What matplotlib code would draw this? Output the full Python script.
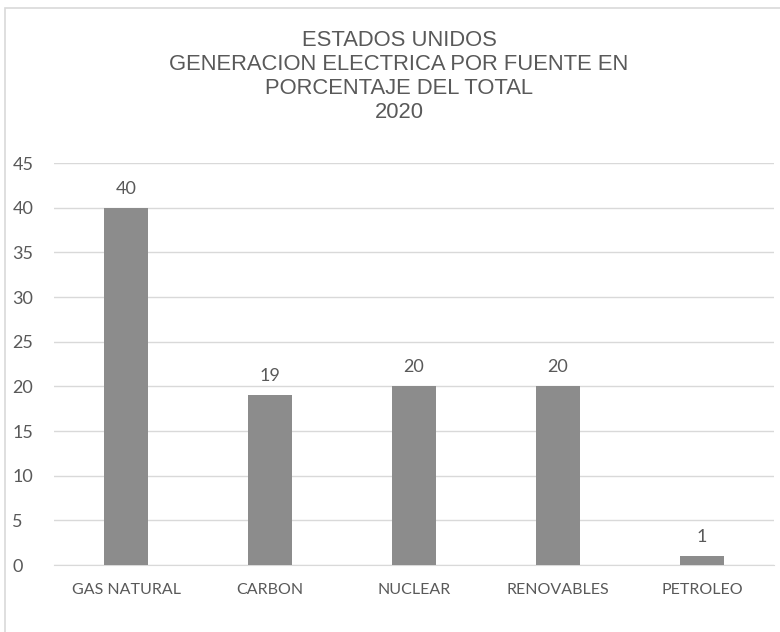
import matplotlib.pyplot as plt
from matplotlib.patches import Rectangle

# data
categories = ["GAS NATURAL", "CARBON", "NUCLEAR", "RENOVABLES", "PETROLEO"]
values = [40, 19, 20, 20, 1]
y_ticks = [0, 5, 10, 15, 20, 25, 30, 35, 40, 45]
title_lines = ["ESTADOS UNIDOS", "GENERACION ELECTRICA POR FUENTE EN",
               "PORCENTAJE DEL TOTAL", "2020"]

text_gray = "#595959"
bar_gray = "#8c8c8c"
body_font = ["Lato", "DejaVu Sans"]

fig = plt.figure(figsize=(7.8, 6.32), dpi=100)

# chart frame (right edge is cut off in the original)
fig.patches.append(Rectangle((5 / 780, -0.01), 1.0, 1 - 8 / 632 + 0.01,
                             transform=fig.transFigure, fill=False,
                             edgecolor="#d9d9d9", linewidth=1.2))

ax = fig.add_axes([54 / 780, 1 - 565 / 632, 720 / 780, (565 - 163) / 632])

x = range(len(categories))
ax.bar(x, values, width=0.31, color=bar_gray, zorder=3)

for i, v in enumerate(values):
    ax.annotate(str(v), (i, v), xytext=(0, 8), textcoords="offset points",
                ha="center", va="bottom", fontsize=13, color=text_gray,
                family=body_font)

ax.set_xlim(-0.5, len(categories) - 0.5)
ax.set_ylim(0, 45)
ax.set_yticks(y_ticks)
ax.set_xticks(list(x))
ax.set_xticklabels(categories, fontsize=11.5, color=text_gray, family=body_font)
for lbl in ax.get_yticklabels():
    lbl.set_fontsize(13)
    lbl.set_color(text_gray)
    lbl.set_family(body_font)
    lbl.set_horizontalalignment("left")

ax.grid(axis="y", color="#d9d9d9", linewidth=1, zorder=0)
ax.tick_params(length=0, pad=13)
ax.tick_params(axis="y", pad=30)
for s in ["top", "right", "left"]:
    ax.spines[s].set_visible(False)
ax.spines["bottom"].set_color("#d9d9d9")

ys = [41, 64.5, 88, 112]
for t, yy in zip(title_lines, ys):
    fig.text(399 / 780, 1 - yy / 632, t, ha="center", va="center",
             fontsize=15.8, color=text_gray,
             family=["Liberation Sans", "DejaVu Sans"])

fig.savefig("out.png", dpi=100)
